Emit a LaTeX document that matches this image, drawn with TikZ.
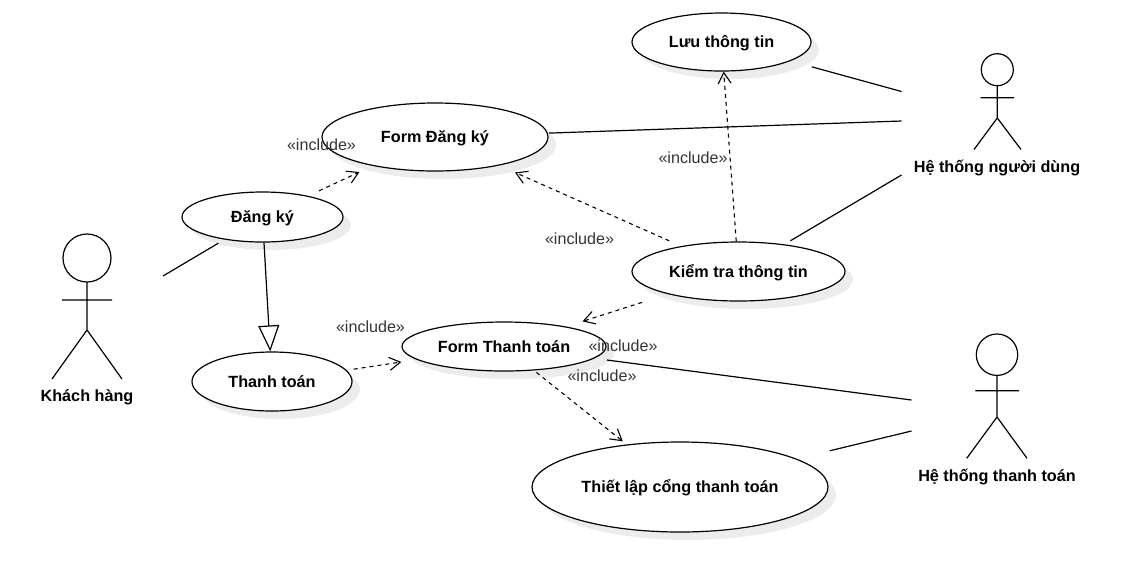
\documentclass[tikz,border=0pt]{standalone}
\usepackage{fontspec}
\setmainfont{Liberation Sans}
\usetikzlibrary{arrows.meta,shapes.geometric,shadows}
\definecolor{incl}{RGB}{51,51,51}
\definecolor{shade}{RGB}{236,236,236}
\tikzset{
  usecase/.style={ellipse,draw,fill=white,inner sep=0pt,line width=1.2pt,text height=13pt,text depth=2pt,
    drop shadow={shadow xshift=8pt,shadow yshift=-8pt,fill=shade,opacity=1},
    font=\fontsize{16.2}{19}\selectfont\bfseries},
  inclabel/.style={text=incl,inner sep=0pt,font=\fontsize{16.1}{19}\selectfont},
  actorname/.style={inner sep=0pt,font=\fontsize{16.2}{19}\selectfont\bfseries},
  assoc/.style={line width=1.2pt},
  dep/.style={line width=1.1pt,dash pattern=on 4pt off 4pt,-{Straight Barb[length=11pt,width=13pt,line width=1.1pt]}},
  gen/.style={line width=1.2pt,-{Triangle[open,length=26pt,width=21pt,fill=white,line width=1.2pt]}},
}
\begin{document}
\begin{tikzpicture}[x=1pt,y=-1pt]
  \useasboundingbox (0,0) rectangle (1142,582);
  % use cases
  \node[usecase,minimum width=179pt,minimum height=58pt] (luu) at (721.5,42) {Lưu thông tin};
  \node[usecase,minimum width=226pt,minimum height=68pt] (formdk) at (435,137) {Form Đăng ký};
  \node[usecase,minimum width=161pt,minimum height=50pt] (dangky) at (262.5,217) {Đăng ký};
  \node[usecase,minimum width=160pt,minimum height=59pt] (thanhtoan) at (272,381.5) {Thanh toán};
  \node[usecase,minimum width=204pt,minimum height=49pt] (formtt) at (504,346.5) {Form Thanh toán};
  \node[usecase,minimum width=213pt,minimum height=59pt] (kiemtra) at (738.5,271.5) {Kiểm tra thông tin};
  \node[usecase,minimum width=296pt,minimum height=90pt] (thietlap) at (680,487) {Thiết lập cổng thanh toán};
  % actors
  \draw[assoc] (87,258) circle (24);
  \draw[assoc] (87,282)--(87,330) (62,300)--(112,300) (52,379)--(87,330)--(122,379);
  \node[actorname] (khach) at (87,397) {Khách hàng};
  \draw[assoc] (997.3,69.7) circle (16);
  \draw[assoc] (997.3,85.7)--(997.3,118) (980.7,97.7)--(1014,97.7) (974,149.5)--(997.3,118)--(1021,149.5);
  \node[actorname] (nguoidung) at (997,168) {Hệ thống người dùng};
  \draw[assoc] (997,354.7) circle (20.7);
  \draw[assoc] (997,375.4)--(997,417) (975.3,390.7)--(1019,390.7) (966.7,458.3)--(997,417)--(1027,458.3);
  \node[actorname] (cong) at (997,477) {Hệ thống thanh toán};
  % free ends near the actors
  \coordinate (k1) at (163,276);
  \coordinate (u1) at (901.5,91.5);
  \coordinate (u2) at (901.5,121);
  \coordinate (u3) at (901.5,175);
  \coordinate (p1) at (911.5,400);
  \coordinate (p2) at (911.5,431);
  % associations
  \draw[assoc,shorten >=7pt] (k1)--(dangky);
  \draw[assoc,shorten >=22pt] (u1)--(luu);
  \draw[assoc,shorten >=1pt] (u2)--(formdk);
  \draw[assoc,shorten >=7pt] (u3)--(kiemtra);
  \draw[assoc,shorten >=12.5pt] (p1)--(formtt);
  \draw[assoc,shorten >=34pt] (p2)--(thietlap);
  % include arrows
  \draw[dep,shorten <=12pt,shorten >=14.5pt] (dangky)--(formdk);
  \draw[dep,shorten <=13pt,shorten >=17pt] (kiemtra)--(formdk);
  \draw[dep] (kiemtra)--(luu);
  \draw[dep,shorten <=27pt,shorten >=17pt] (kiemtra)--(formtt);
  \draw[dep,shorten <=7pt,shorten >=15.5pt] (thanhtoan)--(formtt);
  \draw[dep,shorten <=3pt,shorten >=5pt] (formtt)--(thietlap);
  \draw[gen] (dangky)--(thanhtoan);
  % labels
  \node[inclabel] (i1) at (321.5,145.2) {«include»};
  \node[inclabel] (i2) at (370.5,327) {«include»};
  \node[inclabel] (i3) at (693,157.7) {«include»};
  \node[inclabel] (i4) at (579.5,239) {«include»};
  \node[inclabel] (i5) at (623,346) {«include»};
  \node[inclabel] (i6) at (602,376) {«include»};
\end{tikzpicture}
\end{document}
